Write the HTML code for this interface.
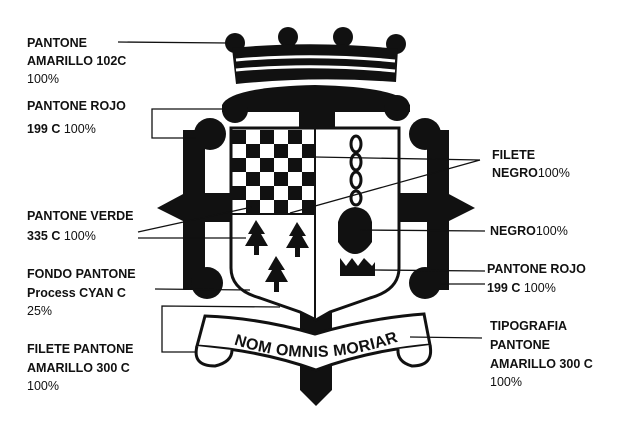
<!DOCTYPE html>
<html><head><meta charset="utf-8"><style>
html,body{margin:0;padding:0;background:#fff}
svg{display:block}
text{font-family:"Liberation Sans",sans-serif;font-size:12.5px;fill:#111}
.b{font-weight:bold}
</style></head><body>
<svg width="640" height="432" viewBox="0 0 640 432" xmlns="http://www.w3.org/2000/svg">
<rect width="640" height="432" fill="#fff"/>
<g fill="#111">
<circle cx="235" cy="43" r="10"/><circle cx="288" cy="37" r="10"/><circle cx="343" cy="37" r="10"/><circle cx="396" cy="44" r="10"/>
<path d="M232 48 Q315 40 398 49 L396 82 Q315 76 236 84 Z"/>
</g>
<path d="M236 60 Q315 53 395 61" stroke="#fff" stroke-width="3" fill="none"/>
<path d="M236 70 Q315 63 395 71" stroke="#fff" stroke-width="3" fill="none"/>
<g fill="#111">
<path d="M222 105 Q230 87 315 85 Q400 87 410 105 L410 112 L222 112 Z"/>
<circle cx="235" cy="110" r="13"/><circle cx="397" cy="108" r="13"/>
<rect x="299" y="100" width="36" height="32"/>
<circle cx="210" cy="134" r="16"/>
<rect x="183" y="130" width="22" height="160"/>
<circle cx="207" cy="283" r="16"/>
<path d="M157 208 L185 193 L230 193 L230 222 L185 222 Z"/>
<circle cx="425" cy="134" r="16"/>
<rect x="427" y="130" width="22" height="160"/>
<circle cx="425" cy="283" r="16"/>
<path d="M475 208 L447 193 L400 193 L400 222 L447 222 Z"/>
<rect x="300" y="312" width="32" height="30"/>
<path d="M300 355 L332 355 L332 390 L316 406 L300 390 Z"/>
</g>
<path d="M231 128 L399 128 L399 268 Q399 290 370 298 L330 312 L316 320 L300 312 L260 298 Q231 290 231 268 Z" fill="#fff" stroke="#111" stroke-width="3"/>
<line x1="315" y1="128" x2="315" y2="318" stroke="#111" stroke-width="2"/>
<g fill="#111">
<rect x="232" y="130" width="14" height="14"/><rect x="260" y="130" width="14" height="14"/><rect x="288" y="130" width="14" height="14"/>
<rect x="246" y="144" width="14" height="14"/><rect x="274" y="144" width="14" height="14"/><rect x="302" y="144" width="13" height="14"/>
<rect x="232" y="158" width="14" height="14"/><rect x="260" y="158" width="14" height="14"/><rect x="288" y="158" width="14" height="14"/>
<rect x="246" y="172" width="14" height="14"/><rect x="274" y="172" width="14" height="14"/><rect x="302" y="172" width="13" height="14"/>
<rect x="232" y="186" width="14" height="14"/><rect x="260" y="186" width="14" height="14"/><rect x="288" y="186" width="14" height="14"/>
<rect x="246" y="200" width="14" height="14"/><rect x="274" y="200" width="14" height="14"/><rect x="302" y="200" width="13" height="14"/>
</g>
<line x1="231" y1="214" x2="315" y2="214" stroke="#111" stroke-width="2"/>
<g fill="#111">
<path d="M256 220 L248 234 L252 234 L245 246 L254 246 L254 255 L259 255 L259 246 L268 246 L261 234 L265 234 Z"/>
<path d="M297 222 L289 236 L293 236 L286 248 L295 248 L295 257 L300 257 L300 248 L309 248 L302 236 L306 236 Z"/>
<path d="M276 256 L268 270 L272 270 L265 282 L274 282 L274 292 L279 292 L279 282 L288 282 L281 270 L285 270 Z"/>
</g>
<g fill="none" stroke="#111" stroke-width="3">
<ellipse cx="356" cy="144" rx="5" ry="8"/><ellipse cx="356" cy="162" rx="5" ry="8"/><ellipse cx="356" cy="180" rx="5" ry="8"/><ellipse cx="356" cy="198" rx="5" ry="7"/>
</g>
<g fill="#111">
<path d="M338 222 Q342 208 355 207 Q369 208 372 222 L372 242 Q364 254 355 254 Q346 254 338 242 Z"/>
<path d="M340 258 L346 266 L352 258 L358 266 L364 258 L372 266 L375 262 L375 276 L340 276 Z"/>
</g>
<!-- scroll -->
<path d="M205 316 Q260 318 315 334 Q370 318 424 314 L430 345 Q370 350 316 370 Q260 350 197 346 Z" fill="#fff" stroke="#111" stroke-width="3"/>
<path d="M197 346 Q192 366 215 366 Q232 362 232 350" fill="#fff" stroke="#111" stroke-width="3"/>
<path d="M430 345 Q434 366 412 366 Q397 362 398 349" fill="#fff" stroke="#111" stroke-width="3"/>
<defs><path id="tp" d="M200 331 Q315 385 432 327"/></defs>
<text style="font-size:16px;font-weight:bold;letter-spacing:0.3px"><textPath href="#tp" startOffset="50%" text-anchor="middle">NOM OMNIS MORIAR</textPath></text>
<g stroke="#111" stroke-width="1.3" fill="none">
<line x1="118" y1="42" x2="228" y2="43"/>
<polyline points="225,109 152,109 152,138 196,138"/>
<line x1="315" y1="157" x2="480" y2="160"/>
<line x1="480" y1="160" x2="290" y2="213"/>
<line x1="138" y1="232" x2="252" y2="207"/>
<line x1="138" y1="238" x2="246" y2="238"/>
<line x1="360" y1="230" x2="485" y2="231"/>
<line x1="375" y1="270" x2="485" y2="271"/>
<line x1="440" y1="284" x2="485" y2="284"/>
<line x1="155" y1="289" x2="250" y2="290"/>
<polyline points="280,307 162,306 162,352 196,352"/>
<line x1="410" y1="337" x2="482" y2="338"/>
</g>
<text class="b" x="27" y="47">PANTONE</text>
<text class="b" x="27" y="65">AMARILLO 102C</text>
<text x="27" y="83">100%</text>
<text class="b" x="27" y="110">PANTONE ROJO</text>
<text class="b" x="27" y="133">199 C  <tspan font-weight="normal">100%</tspan></text>
<text class="b" x="27" y="220">PANTONE VERDE</text>
<text class="b" x="27" y="240">335 C  <tspan font-weight="normal">100%</tspan></text>
<text class="b" x="27" y="278">FONDO PANTONE</text>
<text class="b" x="27" y="297">Process CYAN C</text>
<text x="27" y="315">25%</text>
<text class="b" x="27" y="353">FILETE PANTONE</text>
<text class="b" x="27" y="372">AMARILLO 300 C</text>
<text x="27" y="390">100%</text>
<text class="b" x="492" y="159">FILETE</text>
<text class="b" x="492" y="177">NEGRO<tspan font-weight="normal">100%</tspan></text>
<text class="b" x="490" y="235">NEGRO<tspan font-weight="normal">100%</tspan></text>
<text class="b" x="487" y="273">PANTONE ROJO</text>
<text class="b" x="487" y="292">199 C  <tspan font-weight="normal">100%</tspan></text>
<text class="b" x="490" y="330">TIPOGRAFIA</text>
<text class="b" x="490" y="349">PANTONE</text>
<text class="b" x="490" y="368">AMARILLO 300 C</text>
<text x="490" y="386">100%</text>
</svg>
</body></html>
